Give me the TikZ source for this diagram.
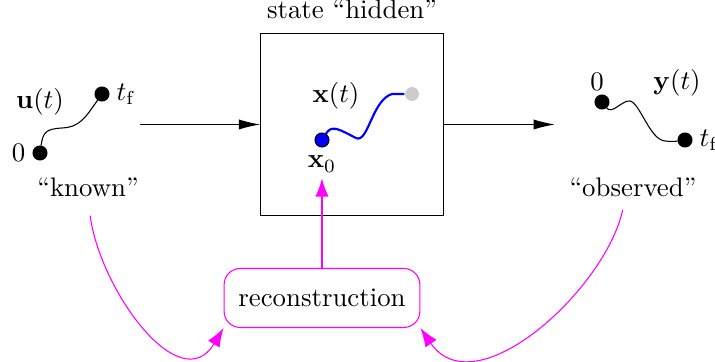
\documentclass[tikz,border=0pt]{standalone}
\usepackage{tikz}
\usetikzlibrary{positioning,arrows.meta}
\definecolor{recmag}{RGB}{255,0,255}

\begin{document}
\begin{tikzpicture}[x=0.0131cm,y=-0.0131cm,>={Latex[length=8pt,width=3.8pt]},
      dot/.style={circle,draw,fill=black,inner sep=0pt,minimum size=5.2pt},
      lbl/.style={inner sep=1pt},
      recbox/.style={draw=recmag,rounded corners=6pt,minimum width=73pt,minimum height=22pt},
      mag/.style={recmag,-{Latex[length=7pt,width=5pt]}}]
    \useasboundingbox (0,0) rectangle (715,362);

    % input signal
    \node[dot] (u0) at (40,153) {};
    \node[dot] (u1) at (102,94) {};
    \draw (u0) .. controls (43,132) and (46,129) .. (62,128) .. controls (80,127) and (85,118) .. (u1);
    \node[lbl,left=1.5pt of u0] {$0$};
    \node[lbl,right=1.5pt of u1] {$t_\mathrm{f}$};
    \node[lbl] at (40,102) {$\mathbf{u}(t)$};
    \node[lbl] (known) at (88,187) {``known''};

    % hidden state
    \node[draw,minimum size=68pt,inner sep=0pt] (box) at (352,124.5) {};
    \node[lbl,above=4pt of box] {state ``hidden''};
    \node[dot,fill=blue] (x0) at (322,140) {};
    \node[dot,draw=none,fill=black!20] (xf) at (412,94) {};
    \draw[blue,thick] (x0) .. controls (332,124) and (340,130) .. (356,138)
      .. controls (368,144) and (372,100) .. (392,94) -- (xf);
    \node[lbl] at (336,96) {$\mathbf{x}(t)$};
    \node[lbl,below=2pt of x0] (x0lab) {$\mathbf{x}_0$};

    % output signal
    \node[dot] (y0) at (602,102) {};
    \node[dot] (y1) at (685,140) {};
    \draw (y0) .. controls (612,115) and (622,100) .. (630,101)
      .. controls (640,103) and (650,140) .. (665,141) .. controls (672,142) and (678,141) .. (y1);
    \node[lbl] at (597,82) {$0$};
    \node[lbl] at (677,83) {$\mathbf{y}(t)$};
    \node[lbl,right=1.5pt of y1] {$t_\mathrm{f}$};
    \node[lbl] (observed) at (633,187) {``observed''};

    \coordinate (in) at (140,124.5);
    \coordinate (out) at (555,124.5);
    \draw[->] (in) -- (box);
    \draw[->] (box) -- (out);

    % reconstruction
    \node[recbox] (rec) at (322,298) {reconstruction};
    \draw[mag,thick,shorten >=1pt] (rec) -- (x0lab);
    \draw[mag,shorten <=6pt] (known.south) .. controls (100,290) and (180,400) .. (rec.south west);
    \draw[mag,shorten <=4pt] ([xshift=-3pt]observed.south) .. controls (605,290) and (475,408) .. (rec.south east);
  \end{tikzpicture}
\end{document}
